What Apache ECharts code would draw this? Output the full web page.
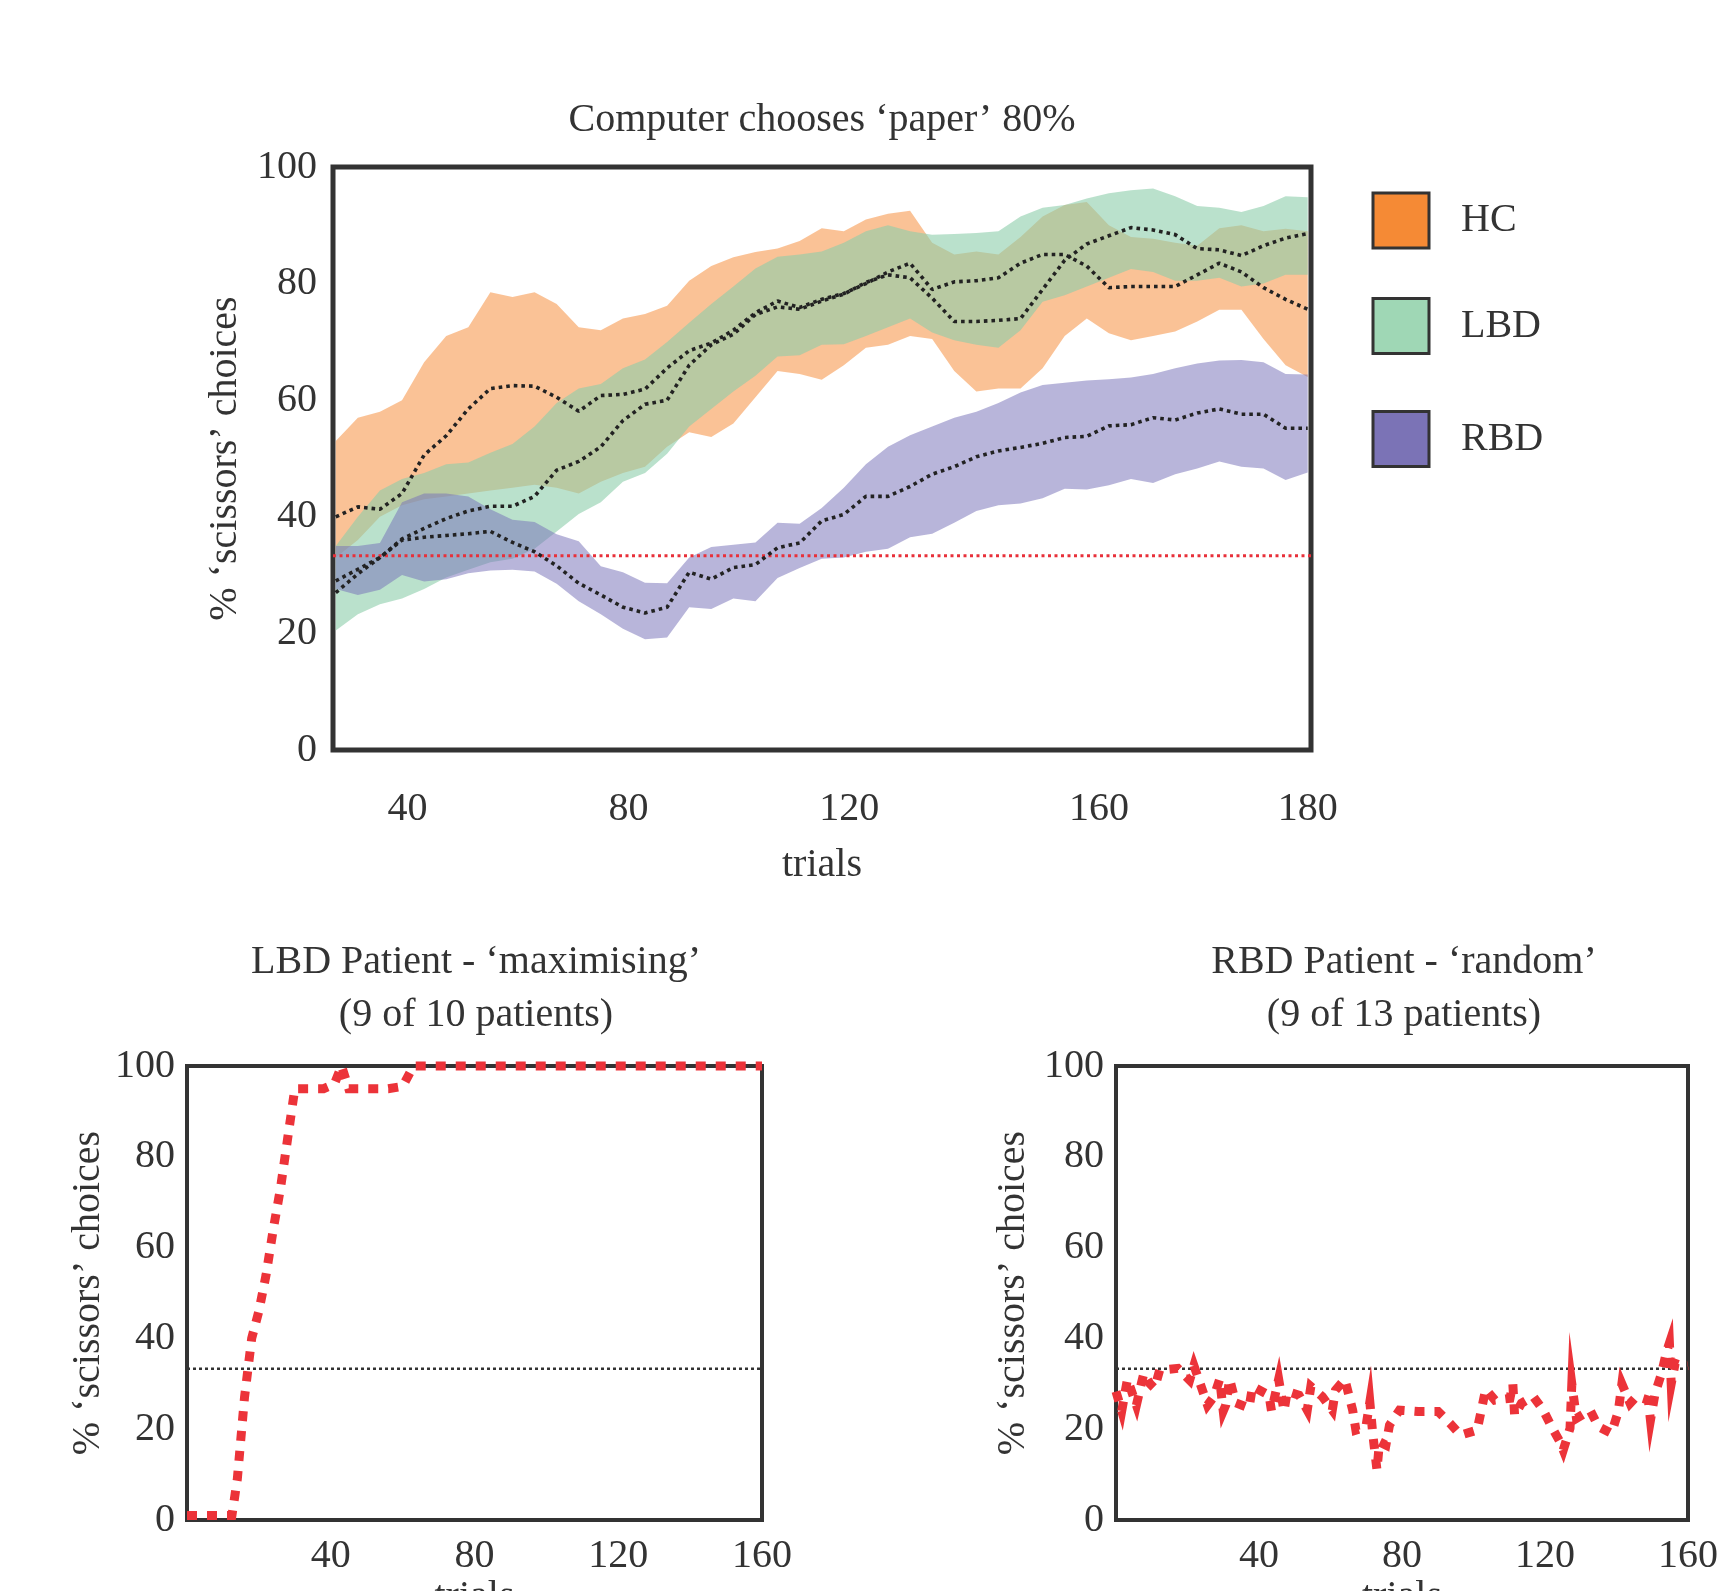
<!DOCTYPE html>
<html><head><meta charset="utf-8">
<script src="https://cdn.jsdelivr.net/npm/echarts@6/dist/echarts.min.js"></script>
<style>html,body{margin:0;padding:0;background:#fff}#c{width:1723px;height:1591px}</style>
</head><body><div id="c"></div>
<script>
// ---------- Top panel data (group means with error bands) ----------
const trials = [27,31,35,39,43,47,51,55,59,63,67,71,75,79,83,87,91,95,99,103,107,111,115,119,123,127,131,135,139,143,147,151,155,159,163,167,171,175,179,183,187,191,195,199,203];
const hcUpper = [53,57,58,60,66.5,71,72.5,78.5,77.7,78.5,76.5,72.5,72,74,74.8,76.2,80.5,83,84.5,85.4,86,87.3,89.5,89,91,92,92.5,87,85,85.5,85,88,91.5,93.5,94,90,88,87.7,87,86.5,89.5,90,89,89.4,89];
const hcMean  = [40,41.7,41.3,44,50.6,53.9,58.5,62,62.5,62.4,60.5,58.1,60.8,61,61.9,65.5,68.5,69.8,72,75,77,75.9,77.3,78.3,80,82,83.5,79,80.3,80.5,81,83.5,85,85,83,79.3,79.5,79.5,79.5,81.5,83.5,82,79.3,77.3,75.6];
const hcLower = [33,36,40,42,43,43.5,44,44.5,45,45.5,45,44,46,47.5,48.6,52,54.5,53.7,56,60.5,65,64.5,63.5,66,69,69.5,71,70.5,65,61.5,62,62,65.5,71,74,71.5,70.3,71,71.8,73.5,75.5,75.5,70.5,66,64];
const lbdUpper = [35,40,44.5,46.5,47.5,49,49.3,51,52.5,55.5,59.5,62,62.8,65.5,67,70,73.3,76.5,79.5,82.6,84.6,85,85.5,87,89,90,89,88.4,88.5,88.7,89,91.5,93,93.5,94.6,95.5,96,96.3,95,93.3,93,92.3,93.3,95,94.8];
const lbdMean  = [27,30.2,33,36.2,38,39.7,41,41.8,41.8,43.5,48,49.5,52,56.5,59.3,60,66,69.5,71.3,74.7,76,75.6,77,78.2,80.2,81.5,81,77.5,73.5,73.5,73.7,74,79,84,86.8,88.2,89.6,89.2,88.4,86,85.8,84.8,86.5,87.8,88.6];
const lbdLower = [20.5,23.3,25,26,27.6,29.6,30.9,32.2,32.8,34.5,37.5,40.5,42.5,46,47.5,50.8,55.5,58.5,61.5,64.2,67.5,67.7,69.5,69.6,71,72.5,74,71.6,70.3,69.5,69,72,76.9,78,79.5,81,82.5,82,80.5,80.5,81,79.5,80,81.5,81.5];
const rbdUpper = [35,35,35.5,42.5,44,44,43.5,41.3,39.5,39.1,37,35.8,31.5,30.5,28.7,28.6,33,34.8,35.2,35.6,39,38.8,41.5,45,49,52,54,55.5,57,58,59.5,61.3,62.6,63,63.4,63.6,63.9,64.5,65.5,66.3,66.8,66.9,66.5,64.5,64.4];
const rbdMean  = [29,31,33,36,36.5,36.8,37.1,37.5,35.6,34,31.6,28.6,26.6,24.5,23.5,24.5,30.5,29.3,31.3,31.8,34.7,35.5,39.3,40.4,43.5,43.5,45.2,47.3,48.6,50.3,51.3,51.9,52.6,53.6,53.8,55.6,55.8,57,56.6,57.8,58.5,57.6,57.6,55.2,55.2];
const rbdLower = [27.6,26.6,27.5,30,28.9,29.3,30.3,30.8,30.9,30.6,28.5,25.5,23.3,20.8,19,19.3,24.5,24.2,26,25.5,29.5,31.2,32.8,33,34,34.5,36.5,37.1,39,41,42,42.3,43.2,44.8,44.7,45.4,46.5,45.8,47.3,48.3,49.5,48.6,48.3,46.3,47.6];
const chanceLevel = 33.3;
// top x-axis: where each printed tick label sits on the trial scale, and its text
const topRange = [26.5, 203.6];
const topTickAt = [40, 80, 120, 165.2, 203];
const topTickLabels = ['40', '80', '120', '160', '180'];

// ---------- Bottom panels: single patients ----------
const lbdPatT = [0,4,8,12.5,14,16,18,20,22,24,26,28,30,34,38,41,43,45,48,52,56,60,63,70,80,90,100,110,120,130,140,150,160];
const lbdPatV = [1,1,1,1,9,27,40,46,54,64,73,84,95,95,95,96,100,95,95,95,95,95.5,100,100,100,100,100,100,100,100,100,100,100];
const rbdPatT = [0,1.6,3.2,5.7,7.1,7.8,9.5,10.8,12.2,17.3,20.6,21.8,23.7,25.6,27.4,29,30,30.7,31.8,33.5,37.2,38.2,42.8,43.5,45.5,47,47.9,51.2,53.5,54.5,57.7,60.5,61.4,64,66.2,67.1,69.9,71,71.8,73,73.7,75.5,76.5,79.3,84.5,90.1,93.4,96.4,101,102.2,103.4,106,110.2,111,111.5,113.4,116.7,119.5,121.8,124.2,125.1,127,127.5,128.8,132.6,134.9,138.6,140.5,141.5,143.8,145.6,148.9,149.5,150.8,152.6,154,154.8,155.3,156.4,158.7,160];
const rbdPatV = [28.3,24,31,25.3,30.1,32.3,30,29,33,33.4,30.8,34,29.7,25.3,27.2,31,24,25.3,31,25.8,24.7,29.4,27.5,24,31,24,28.3,27.5,24.2,29.4,27.2,24.2,28.6,31,24.2,19.8,20.5,26,19.1,11,17.2,16.5,20.9,24.2,23.9,23.9,21.3,18.7,19.8,24.2,28.8,26.4,26.8,30,23,25.7,27.2,24.2,20.6,17.2,15.4,20.2,30,22.4,24.2,20.6,19.1,23.9,30,25.7,27.2,26.4,22,27.9,32.3,37.1,39,30,34.5,33.8,34];

const FONT = "'Liberation Serif', 'Times New Roman', 'DejaVu Serif', serif";
const TXT = '#333';
const txt = (size) => ({fontSize: size, fontFamily: FONT, color: TXT, fontWeight: 'normal'});

const pairs = (xs, ys) => xs.map((x, i) => [x, ys[i]]);

// error band drawn as one polygon between lower and upper, through the axis scales
function band(name, lower, upper, fill, solid, z) {
  return {
    type: 'custom', name: name, xAxisIndex: 0, yAxisIndex: 0, z: z, silent: true, clip: true,
    itemStyle: {color: solid},
    data: trials.map((t, i) => [t, lower[i], upper[i]]),
    encode: {x: 0, y: [1, 2]},
    renderItem: function (params, api) {
      if (params.dataIndex !== 0) return null;
      const top = trials.map((t, i) => api.coord([t, upper[i]]));
      const bot = trials.map((t, i) => api.coord([t, lower[i]])).reverse();
      return {type: 'polygon', shape: {points: top.concat(bot)}, style: {fill: fill, stroke: null}};
    }
  };
}
function meanLine(name, vals) {
  return {type: 'line', name: name, xAxisIndex: 0, yAxisIndex: 0, data: pairs(trials, vals),
    symbol: 'none', silent: true, z: 10,
    lineStyle: {color: '#222', width: 3.6, type: [3.6, 4]}};
}

const legendBase = (name, color, top) => ({
  data: [{name: name, itemStyle: {color: color}}],
  left: 1371.5, top: top, orient: 'vertical', padding: 0, icon: 'rect',
  itemWidth: 56, itemHeight: 55, selectedMode: false,
  itemStyle: {borderColor: '#333', borderWidth: 3},
  textStyle: Object.assign(txt(40), {padding: [0, 0, 0, 27]})
});

const yName = '% ‘scissors’ choices';
const hideAxisParts = {axisLine: {show: false}, axisTick: {show: false}, splitLine: {show: false}};
const gridCommon = {show: true, borderColor: '#333', containLabel: false, outerBoundsMode: 'none'};

const option = {
  animation: false,
  backgroundColor: '#fff',
  grid: [
    Object.assign({left: 333, top: 167, width: 978, height: 583, borderWidth: 5}, gridCommon),
    Object.assign({left: 187, top: 1066, width: 575, height: 454, borderWidth: 4}, gridCommon),
    Object.assign({left: 1116, top: 1066, width: 572, height: 454, borderWidth: 4}, gridCommon)
  ],
  legend: [
    legendBase('HC', '#F58A35', 191.5),
    legendBase('LBD', '#9FD7B5', 297),
    legendBase('RBD', '#7B73B6', 410)
  ],
  graphic: [
    {type: 'text', x: 822, y: 120, silent: true,
     style: {text: 'Computer chooses ‘paper’ 80%', fill: TXT, font: '40px ' + FONT, align: 'center', verticalAlign: 'middle', textAlign: 'center', textVerticalAlign: 'middle'}},
    {type: 'text', x: 476, y: 989, silent: true,
     style: {text: 'LBD Patient - ‘maximising’\n(9 of 10 patients)', fill: TXT, font: '40px ' + FONT, lineHeight: 53, align: 'center', verticalAlign: 'middle', textAlign: 'center', textVerticalAlign: 'middle'}},
    {type: 'text', x: 1404, y: 989, silent: true,
     style: {text: 'RBD Patient - ‘random’\n(9 of 13 patients)', fill: TXT, font: '40px ' + FONT, lineHeight: 53, align: 'center', verticalAlign: 'middle', textAlign: 'center', textVerticalAlign: 'middle'}}
  ],
  xAxis: [
    Object.assign({gridIndex: 0, type: 'value', min: topRange[0], max: topRange[1],
      axisLabel: Object.assign(txt(40), {margin: 39, customValues: topTickAt,
        formatter: (v) => { const i = topTickAt.findIndex(a => Math.abs(a - v) < 0.01); return i >= 0 ? topTickLabels[i] : ''; }}),
      name: 'trials', nameLocation: 'middle', nameGap: 95, nameMoveOverlap: false, nameTextStyle: txt(40)}, hideAxisParts),
    Object.assign({gridIndex: 1, type: 'value', min: 0, max: 160, interval: 40,
      axisLabel: Object.assign(txt(40), {margin: 16, showMinLabel: false}),
      name: 'trials', nameLocation: 'middle', nameGap: 57, nameMoveOverlap: false, nameTextStyle: txt(40)}, hideAxisParts),
    Object.assign({gridIndex: 2, type: 'value', min: 0, max: 160, interval: 40,
      axisLabel: Object.assign(txt(40), {margin: 16, showMinLabel: false}),
      name: 'trials', nameLocation: 'middle', nameGap: 57, nameMoveOverlap: false, nameTextStyle: txt(40)}, hideAxisParts)
  ],
  yAxis: [
    Object.assign({gridIndex: 0, type: 'value', min: 0, max: 100, interval: 20,
      axisLabel: Object.assign(txt(40), {margin: 16}),
      name: yName, nameLocation: 'middle', nameGap: 88, nameRotate: 90, nameMoveOverlap: false, nameTextStyle: txt(40)}, hideAxisParts),
    Object.assign({gridIndex: 1, type: 'value', min: 0, max: 100, interval: 20,
      axisLabel: Object.assign(txt(40), {margin: 12}),
      name: yName, nameLocation: 'middle', nameGap: 79, nameRotate: 90, nameMoveOverlap: false, nameTextStyle: txt(40)}, hideAxisParts),
    Object.assign({gridIndex: 2, type: 'value', min: 0, max: 100, interval: 20,
      axisLabel: Object.assign(txt(40), {margin: 12}),
      name: yName, nameLocation: 'middle', nameGap: 83, nameRotate: 90, nameMoveOverlap: false, nameTextStyle: txt(40)}, hideAxisParts)
  ],
  series: [
    band('HC', hcLower, hcUpper, 'rgba(245,138,53,0.52)', '#F58A35', 2),
    band('LBD', lbdLower, lbdUpper, 'rgba(140,205,170,0.6)', '#9FD7B5', 3),
    band('RBD', rbdLower, rbdUpper, 'rgba(120,115,185,0.53)', '#7B73B6', 4),
    {type: 'line', name: 'chance', xAxisIndex: 0, yAxisIndex: 0, data: [[topRange[0], chanceLevel], [topRange[1], chanceLevel]],
     symbol: 'none', silent: true, z: 9, lineStyle: {color: '#e8303a', width: 3, type: [3, 3.5]}},
    meanLine('HC mean', hcMean),
    meanLine('LBD mean', lbdMean),
    meanLine('RBD mean', rbdMean),
    {type: 'line', name: 'chance L', xAxisIndex: 1, yAxisIndex: 1, data: [[0, chanceLevel], [160, chanceLevel]],
     symbol: 'none', silent: true, z: 5, lineStyle: {color: '#333', width: 2.6, type: [3, 3]}},
    {type: 'line', name: 'LBD patient', xAxisIndex: 1, yAxisIndex: 1, data: pairs(lbdPatT, lbdPatV),
     symbol: 'none', silent: true, z: 6, clip: false,
     lineStyle: {color: '#ec3339', width: 9, type: [10, 10], join: 'miter', miterLimit: 20}},
    {type: 'line', name: 'chance R', xAxisIndex: 2, yAxisIndex: 2, data: [[0, chanceLevel], [160, chanceLevel]],
     symbol: 'none', silent: true, z: 5, lineStyle: {color: '#333', width: 2.6, type: [3, 3]}},
    {type: 'line', name: 'RBD patient', xAxisIndex: 2, yAxisIndex: 2, data: pairs(rbdPatT, rbdPatV),
     symbol: 'none', silent: true, z: 6, clip: false,
     lineStyle: {color: '#ec3339', width: 9, type: [10, 10], join: 'miter', miterLimit: 20}}
  ]
};

const chart = echarts.init(document.getElementById('c'), null, {renderer: 'canvas'});
chart.setOption(option);
</script>
</body></html>
